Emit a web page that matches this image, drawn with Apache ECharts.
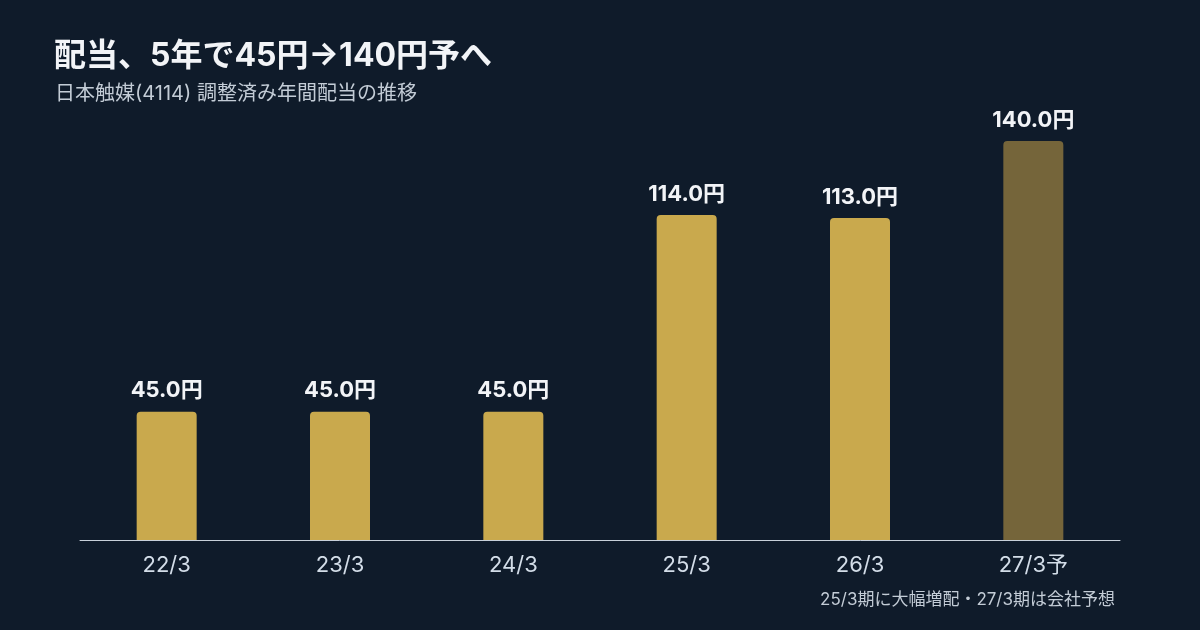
<!DOCTYPE html>
<html><head><meta charset="utf-8">
<script src="https://cdn.jsdelivr.net/npm/echarts@6/dist/echarts.min.js"></script>
<style>html,body{margin:0;padding:0;background:#0f1b2a;}#c{width:1200px;height:630px;}</style>
</head><body><div id="c"></div>
<script>
const categories = ['22/3','23/3','24/3','25/3','26/3','27/3予'];
const dividends = [45.0, 45.0, 45.0, 114.0, 113.0, 140.0];
const forecastFlags = [false, false, false, false, false, true];
const titleText = '配当、5年で45円→140円予へ';
const subtitleText = '日本触媒(4114) 調整済み年間配当の推移';
const noteText = '25/3期に大幅増配・27/3期は会社予想';

const FONT = 'Inter, "Noto Sans CJK JP", sans-serif';
const chart = echarts.init(document.getElementById('c'));
chart.setOption({
  backgroundColor: '#0f1b2a',
  animation: false,
  title: [
    {text: titleText, left: 49, top: 35, textStyle: {color: '#f2f4f7', fontSize: 32, fontWeight: 'bold', fontFamily: FONT}},
    {text: subtitleText, left: 50, top: 79, textStyle: {color: '#c3ccd6', fontSize: 20, fontWeight: 'normal', fontFamily: FONT}},
    {text: noteText, right: 80, top: 586, textStyle: {color: '#c3ccd6', fontSize: 17, fontWeight: 'normal', fontFamily: FONT}}
  ],
  grid: {left: 80, right: 80, top: 112.5, bottom: 90},
  xAxis: {
    type: 'category', data: categories,
    axisLine: {lineStyle: {color: '#c8d0da', width: 1}},
    axisTick: {show: false},
    axisLabel: {color: '#d3dde8', fontSize: 22, margin: 14, fontFamily: FONT}
  },
  yAxis: {type: 'value', min: 0, max: 150, show: false, splitLine: {show: false}},
  series: [{
    type: 'bar', barWidth: 60,
    data: dividends.map((v, i) => ({value: v, itemStyle: {color: forecastFlags[i] ? '#75653a' : '#c9a94d', borderRadius: [4,4,0,0]}})),
    label: {show: true, position: 'top', distance: 10, color: '#f2f4f7', fontSize: 22, fontWeight: 'bold', fontFamily: FONT,
      formatter: p => p.value.toFixed(1) + '円'}
  }]
});
</script></body></html>
